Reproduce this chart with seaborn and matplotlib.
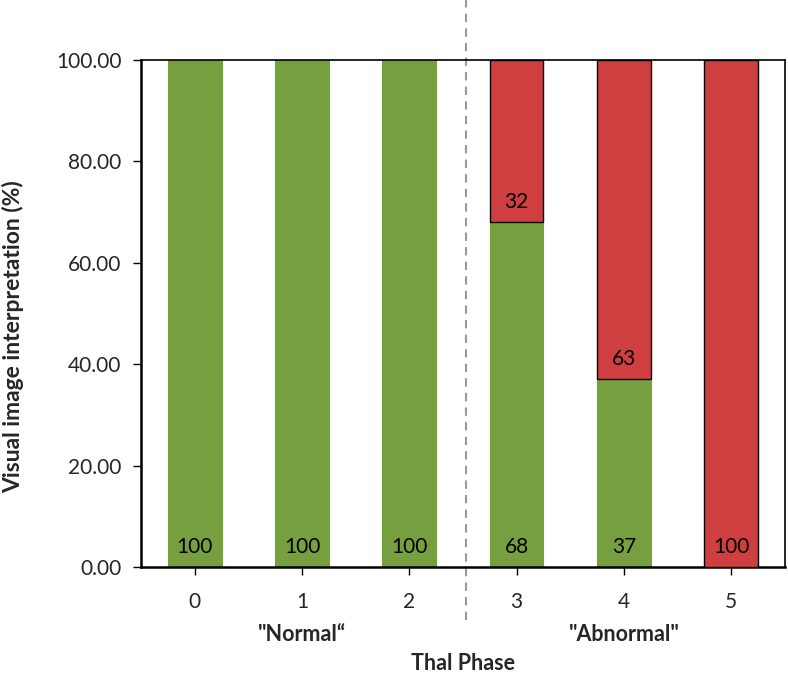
import matplotlib
matplotlib.use("Agg")
import matplotlib.pyplot as plt
import seaborn as sns
import pandas as pd
import numpy as np

# values
phases = ["0", "1", "2", "3", "4", "5"]
normal_pct = [100, 100, 100, 68, 37, 0]
abnormal_pct = [0, 0, 0, 32, 63, 100]

green = "#76A03F"
red = "#D03F3F"

sns.set_theme(style="white")
plt.rcParams['font.family'] = ['Lato', 'DejaVu Sans']

df = pd.DataFrame({"phase": phases, "normal": normal_pct, "abnormal": abnormal_pct})

fig, ax = plt.subplots(figsize=(7.88, 6.75), dpi=100)
fig.subplots_adjust(left=0.179, right=0.996, top=0.911, bottom=0.16)

sns.barplot(data=df, x="phase", y="normal", color=green, width=0.5,
            saturation=1, edgecolor=green, linewidth=0.8, ax=ax)

# red segments stacked on top of the green ones
xs = np.arange(len(phases))
mask = df["abnormal"] > 0
ax.bar(xs[mask], df["abnormal"][mask], bottom=df["normal"][mask], width=0.5,
       color=red, edgecolor="black", linewidth=1.0, zorder=3)

for i, row in df.iterrows():
    if row["normal"] > 0:
        ax.text(i, 4, str(row["normal"]), ha="center", va="center", fontsize=15, color="black", zorder=5)
    if row["abnormal"] > 0:
        ax.text(i, row["normal"] + 4, str(row["abnormal"]), ha="center", va="center",
                fontsize=15, color="black", zorder=5)

ax.set_xlim(-0.5, 5.5)
ax.set_ylim(0, 100)
ax.set_yticks(np.arange(0, 101, 20))
ax.set_yticklabels([f"{v:.2f}" for v in np.arange(0, 101, 20)], fontsize=15)
ax.set_xticks(xs)
ax.set_xticklabels(phases, fontsize=15)
ax.tick_params(axis="both", direction="out", length=6, width=1, color="black", bottom=True, left=True)
ax.tick_params(axis="x", pad=12)
ax.tick_params(axis="y", pad=8)

for s in ax.spines.values():
    s.set_color("black")
    s.set_linewidth(1.2)
ax.spines["left"].set_linewidth(1.8)
ax.spines["bottom"].set_linewidth(1.8)

ax.set_ylabel("Visual image interpretation (%)", fontsize=16.5, fontweight="bold")
ax.yaxis.set_label_coords(-0.181, 0.454)
ax.set_xlabel("Thal Phase", fontsize=15.5, fontweight="bold")
ax.xaxis.set_label_coords(0.5, -0.17)

ax.text(1, -13.4, "\"Normal\u201c", ha="center", va="center", fontsize=15.5,
        fontweight="bold")
ax.text(4, -13.4, "\"Abnormal\"", ha="center", va="center", fontsize=15.5,
        fontweight="bold")

ax.axvline(2.53, ymin=-0.105, ymax=1.12, color="#999999", linestyle=(0, (4, 3)),
           linewidth=1.5, clip_on=False, zorder=0)

fig.savefig("out.png", dpi=100)
